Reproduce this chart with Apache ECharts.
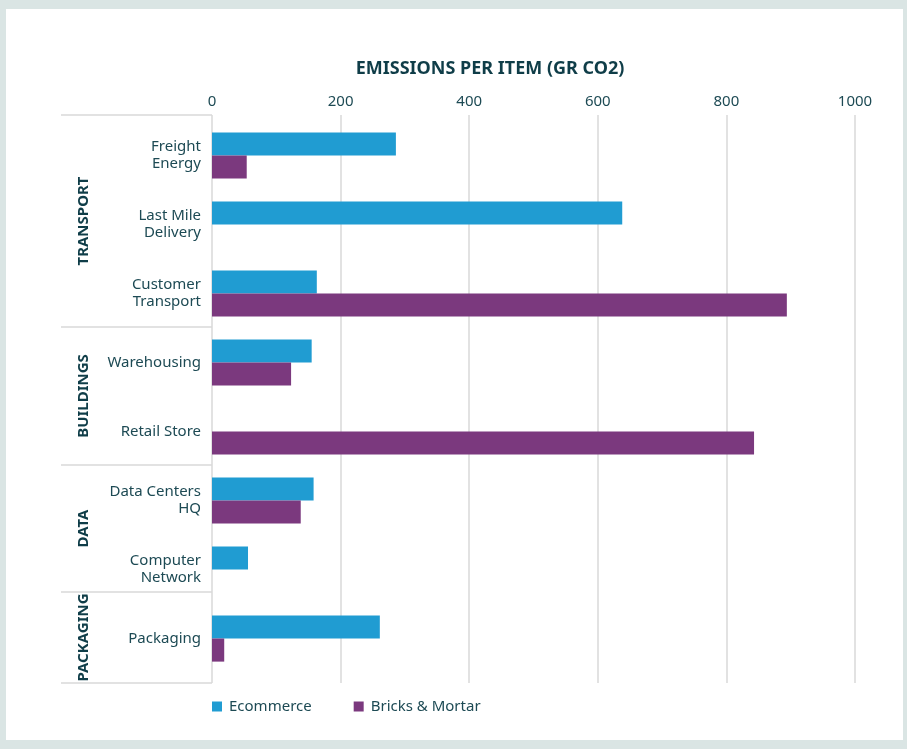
<!DOCTYPE html>
<html>
<head>
<meta charset="utf-8">
<script src="https://cdn.jsdelivr.net/npm/echarts@6/dist/echarts.min.js"></script>
<style>
  html, body { margin: 0; padding: 0; background: #dae5e4; }
  #chart { width: 907px; height: 749px; }
</style>
</head>
<body>
<div id="chart"></div>
<script>
// 数据
const categories = ['Freight\nEnergy', 'Last Mile\nDelivery', 'Customer\nTransport', 'Warehousing',
  'Retail Store', 'Data Centers\nHQ', 'Computer\nNetwork', 'Packaging'];
const ecommerce = [286, 638, 163, 155, null, 158, 56, 261];
const bricksMortar = [54, null, 894, 123, 843, 138, null, 19];
const tickValues = [0, 200, 400, 600, 800, 1000];
const groups = ['TRANSPORT', 'BUILDINGS', 'DATA', 'PACKAGING'];

const textColor = '#1d4a54';
const lineColor = '#d9d9d9';
const font = '"Noto Sans", sans-serif';

const chart = echarts.init(document.getElementById('chart'), null, { renderer: 'canvas' });

// 分组分隔线和标签位置
const sepY = [115, 327, 465, 592, 683];
const groupGraphics = [];
sepY.forEach(y => {
  groupGraphics.push({
    type: 'line', shape: { x1: 61, y1: y, x2: 212, y2: y },
    style: { stroke: lineColor, lineWidth: 1.5 }, z: 5
  });
});
groups.forEach((g, i) => {
  groupGraphics.push({
    type: 'text', x: 84, y: (sepY[i] + sepY[i + 1]) / 2, rotation: Math.PI / 2,
    style: {
      text: g, fill: '#0f3d48', font: 'bold 15px "Noto Sans", sans-serif',
      align: 'center', verticalAlign: 'middle'
    }, z: 5
  });
});

const option = {
  backgroundColor: '#dae5e4',
  animation: false,
  title: {
    text: 'EMISSIONS PER ITEM (GR CO2)',
    left: 485, top: 55, textAlign: 'center',
    textStyle: { color: '#0f3d48', fontSize: 18, fontWeight: 'bold', fontFamily: font }
  },
  legend: {
    left: 207, top: 694,
    itemWidth: 10, itemHeight: 10, itemGap: 42,
    icon: 'rect',
    textStyle: { color: textColor, fontSize: 15, fontFamily: font, padding: [0, 0, 0, 2] },
    data: ['Ecommerce', 'Bricks & Mortar']
  },
  graphic: [
    { type: 'rect', shape: { x: 6, y: 9, width: 897, height: 731 }, style: { fill: '#ffffff' }, z: -10, silent: true },
    ...groupGraphics
  ],
  grid: [
    { left: 212, right: 52, top: 121, bottom: 76 },
    { left: 212, right: 52, top: 115, bottom: 66 }
  ],
  xAxis: [
    {
      gridIndex: 0, type: 'value', min: 0, max: 1000, interval: 200,
      axisLabel: { show: false }, axisLine: { show: false }, axisTick: { show: false },
      splitLine: { show: false }
    },
    {
      gridIndex: 1, type: 'value', position: 'top', min: 0, max: 1000, interval: 200,
      axisLabel: { color: textColor, fontSize: 15, fontFamily: font, margin: 6,
        formatter: v => tickValues.includes(v) ? String(v) : '' },
      axisLine: { show: false }, axisTick: { show: false },
      splitLine: { show: true, lineStyle: { color: lineColor, width: 1.5 } }
    }
  ],
  yAxis: [
    {
      gridIndex: 0, type: 'category', data: categories, inverse: true,
      axisLine: { show: false }, axisTick: { show: false },
      axisLabel: { color: textColor, fontSize: 15, fontFamily: font, margin: 11,
        lineHeight: 17, align: 'right', padding: [4, 0, 0, 0] }
    },
    {
      gridIndex: 1, type: 'value', min: 0, max: 1, show: false
    }
  ],
  series: [
    {
      name: 'Ecommerce', type: 'bar', xAxisIndex: 0, yAxisIndex: 0,
      data: ecommerce, itemStyle: { color: '#209cd2' },
      barGap: '0%', barCategoryGap: '33%'
    },
    {
      name: 'Bricks & Mortar', type: 'bar', xAxisIndex: 0, yAxisIndex: 0,
      data: bricksMortar, itemStyle: { color: '#7b397e' },
      barGap: '0%', barCategoryGap: '33%'
    }
  ]
};

chart.setOption(option);
</script>
</body>
</html>
